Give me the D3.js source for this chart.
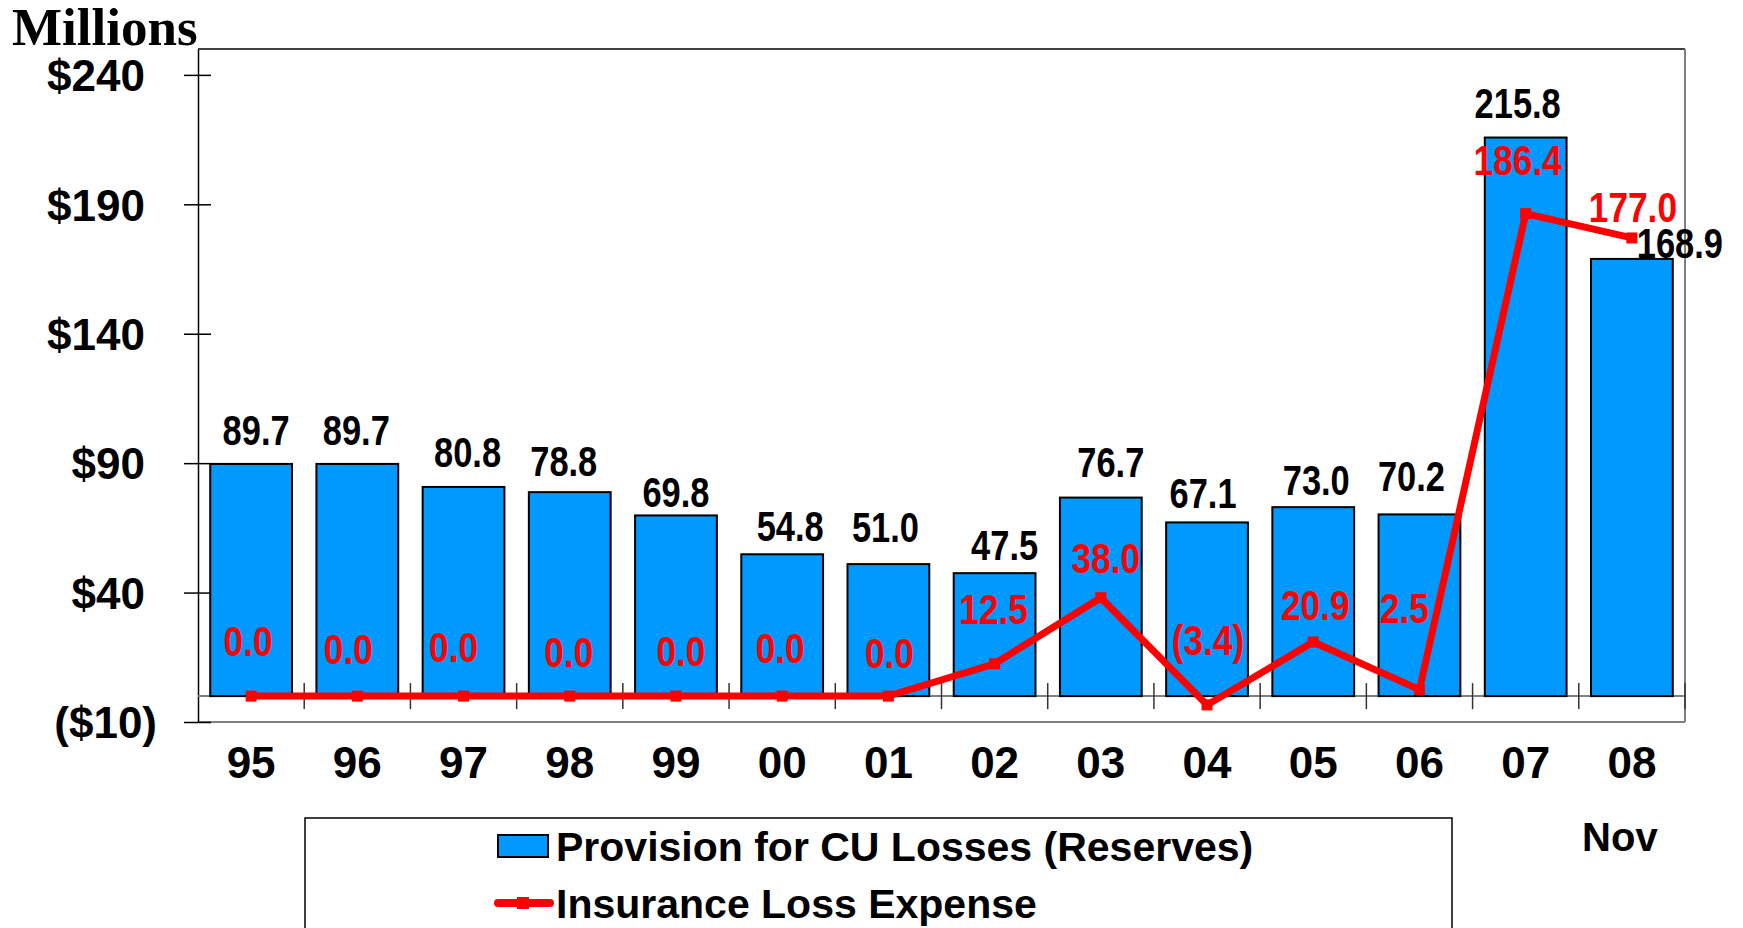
<!DOCTYPE html>
<html>
<head>
<meta charset="utf-8">
<script src="https://cdn.jsdelivr.net/npm/d3@7"></script>
<style>
  body { margin: 0; background: #fff; }
  svg { display: block; }
</style>
</head>
<body>
<div id="chart"></div>
<script>
// chart data
const years = ["95", "96", "97", "98", "99", "00", "01", "02", "03", "04", "05", "06", "07", "08"];
const provision = [89.7, 89.7, 80.8, 78.8, 69.8, 54.8, 51.0, 47.5, 76.7, 67.1, 73.0, 70.2, 215.8, 168.9];
const insurance = [0.0, 0.0, 0.0, 0.0, 0.0, 0.0, 0.0, 12.5, 38.0, -3.4, 20.9, 2.5, 186.4, 177.0];
const yTicks = [-10, 40, 90, 140, 190, 240];
const legendLabels = ["Provision for CU Losses (Reserves)", "Insurance Loss Expense"];

// hand placed label offsets [dx, gap above mark], like the original slide
const barLabelNudge = [[5, 19], [-1, 19], [4, 20], [-6, 16], [0, 8], [8, 13], [-3, 22],
  [10, 13], [10, 21], [-4, 14], [3, 12], [-8, 23], [-8, 20], [48, 1]];
const lineLabelNudge = [[-3, 40], [-9, 32], [-10, 34], [-1, 29], [5, 30], [-2, 33], [1, 28],
  [-1, 40], [5, 25], [1, 50], [2, 22], [-15, 67], [-8, 39], [1, 16]];

const W = 1743, H = 928;
const plot = { left: 198, right: 1685, top: 49, bottom: 722 };
const blue = "#0099ff", red = "#ff0000";
const sansBold = "'Liberation Sans', Arial, sans-serif";

const svg = d3.select("#chart").append("svg")
  .attr("width", W)
  .attr("height", H);

const x = d3.scaleBand()
  .domain(years)
  .range([plot.left, plot.right])
  .paddingInner(0.23)
  .paddingOuter(0.115);

const y = d3.scaleLinear()
  .domain([-10, 250])
  .range([plot.bottom, plot.top]);

const cx = d => x(d) + x.bandwidth() / 2;

// frame: top black, right + bottom gray
svg.append("line")
  .attr("x1", plot.left).attr("x2", plot.right)
  .attr("y1", plot.top).attr("y2", plot.top)
  .attr("stroke", "#000").attr("stroke-width", 1.5);
svg.append("line")
  .attr("x1", plot.right).attr("x2", plot.right)
  .attr("y1", plot.top).attr("y2", plot.bottom)
  .attr("stroke", "#808080").attr("stroke-width", 2);
svg.append("line")
  .attr("x1", plot.left).attr("x2", plot.right)
  .attr("y1", plot.bottom).attr("y2", plot.bottom)
  .attr("stroke", "#808080").attr("stroke-width", 2);

// y axis
const yAxis = svg.append("g")
  .attr("transform", `translate(${plot.left},0)`)
  .call(d3.axisLeft(y)
    .tickValues(yTicks)
    .tickSizeInner(14)
    .tickSizeOuter(0)
    .tickPadding(0)
    .tickFormat(d => d < 0 ? `($${-d})` : `$${d}`));

yAxis.select(".domain").attr("stroke", "#000").attr("stroke-width", 1.5);
yAxis.selectAll(".tick line")
  .attr("x1", 13)
  .attr("stroke", "#000").attr("stroke-width", 1.5);
yAxis.selectAll(".tick text")
  .attr("x", d => d < 0 ? -41 : -53)
  .attr("dy", "0.36em")
  .style("font-family", sansBold)
  .style("font-weight", "bold")
  .style("font-size", "44px")
  .attr("fill", "#000");

// zero line
svg.append("line")
  .attr("x1", plot.left).attr("x2", plot.right)
  .attr("y1", y(0)).attr("y2", y(0))
  .attr("stroke", "#808080").attr("stroke-width", 2);

// bars
svg.append("g")
  .selectAll("rect")
  .data(years)
  .join("rect")
    .attr("x", d => x(d))
    .attr("width", x.bandwidth())
    .attr("y", (d, i) => y(provision[i]))
    .attr("height", (d, i) => y(0) - y(provision[i]))
    .attr("fill", blue)
    .attr("stroke", "#000")
    .attr("stroke-width", 2);

// category separator ticks across the zero line
const seps = d3.range(1, years.length + 1).map(i => plot.left + i * x.step());
svg.append("g")
  .selectAll("line")
  .data(seps)
  .join("line")
    .attr("x1", d => d).attr("x2", d => d)
    .attr("y1", y(0) - 13).attr("y2", y(0) + 13)
    .attr("stroke", "#333").attr("stroke-width", 1.5);

// x labels
const xAxis = svg.append("g")
  .attr("transform", `translate(0,${plot.bottom})`)
  .call(d3.axisBottom(x).tickSize(0).tickPadding(0));
xAxis.select(".domain").remove();
xAxis.selectAll(".tick text")
  .attr("y", 56)
  .attr("dy", 0)
  .style("font-family", sansBold)
  .style("font-weight", "bold")
  .style("font-size", "44px")
  .attr("fill", "#000");

// insurance loss line
const line = d3.line()
  .x((d, i) => cx(years[i]))
  .y(d => y(d));

svg.append("path")
  .datum(insurance)
  .attr("fill", "none")
  .attr("stroke", red)
  .attr("stroke-width", 7)
  .attr("stroke-linejoin", "miter")
  .attr("d", line);

svg.append("g")
  .selectAll("rect")
  .data(insurance)
  .join("rect")
    .attr("x", (d, i) => cx(years[i]) - 5.5)
    .attr("y", d => y(d) - 5.5)
    .attr("width", 11)
    .attr("height", 11)
    .attr("fill", red);

// value labels (narrow bold)
const fmt = d3.format(".1f");
svg.append("g")
  .selectAll("text")
  .data(provision)
  .join("text")
    .attr("transform", (d, i) =>
      `translate(${cx(years[i]) + barLabelNudge[i][0]},${y(d) - barLabelNudge[i][1]}) scale(0.82,1)`)
    .attr("text-anchor", "middle")
    .style("font-family", sansBold)
    .style("font-weight", "bold")
    .style("font-size", "42px")
    .attr("fill", "#000")
    .text(d => fmt(d));

svg.append("g")
  .selectAll("text")
  .data(insurance)
  .join("text")
    .attr("transform", (d, i) =>
      `translate(${cx(years[i]) + lineLabelNudge[i][0]},${y(d) - lineLabelNudge[i][1]}) scale(0.82,1)`)
    .attr("text-anchor", "middle")
    .style("font-family", sansBold)
    .style("font-weight", "bold")
    .style("font-size", "43px")
    .attr("fill", red)
    .text(d => d < 0 ? `(${fmt(-d)})` : fmt(d));

// "Millions" title and "Nov" note
svg.append("text")
  .attr("x", 12).attr("y", 45)
  .style("font-family", "'Liberation Serif', 'Times New Roman', serif")
  .style("font-weight", "bold")
  .style("font-size", "53px")
  .text("Millions");

svg.append("text")
  .attr("x", cx("08") - 12).attr("y", 851)
  .attr("text-anchor", "middle")
  .style("font-family", sansBold)
  .style("font-weight", "bold")
  .style("font-size", "40px")
  .text("Nov");

// legend
const legend = svg.append("g");
legend.append("rect")
  .attr("x", 305).attr("y", 818)
  .attr("width", 1147).attr("height", 140)
  .attr("fill", "#fff")
  .attr("stroke", "#000").attr("stroke-width", 1.5);

legend.append("rect")
  .attr("x", 498).attr("y", 835)
  .attr("width", 50).attr("height", 22)
  .attr("fill", blue)
  .attr("stroke", "#000").attr("stroke-width", 2);

legend.append("line")
  .attr("x1", 498).attr("x2", 550)
  .attr("y1", 903).attr("y2", 903)
  .attr("stroke", red).attr("stroke-width", 8)
  .attr("stroke-linecap", "round");
legend.append("rect")
  .attr("x", 517).attr("y", 897)
  .attr("width", 12).attr("height", 12)
  .attr("fill", red);

legend.selectAll("text.lbl")
  .data(legendLabels)
  .join("text")
    .attr("class", "lbl")
    .attr("x", 556)
    .attr("y", (d, i) => 861 + i * 57)
    .style("font-family", sansBold)
    .style("font-weight", "bold")
    .style("font-size", "41px")
    .attr("fill", "#000")
    .text(d => d);
</script>
</body>
</html>
